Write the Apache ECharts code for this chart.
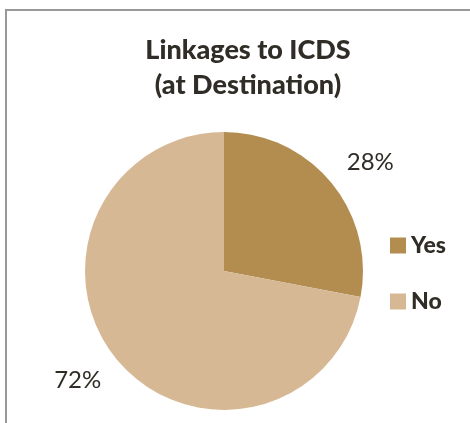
<!DOCTYPE html>
<html>
<head>
<meta charset="utf-8">
<script src="https://cdn.jsdelivr.net/npm/echarts@6/dist/echarts.min.js"></script>
<style>
html,body{margin:0;padding:0;background:#fff;}
#chart{width:470px;height:423px;}
</style>
</head>
<body>
<div id="chart"></div>
<script>
var categories = ['Yes', 'No'];
var values = [28, 72];
var colors = ['#B38C50', '#D6B994'];
var titleText = 'Linkages to ICDS\n(at Destination)';

var chart = echarts.init(document.getElementById('chart'), null, {renderer: 'canvas'});
var data = categories.map(function (c, i) {
  return {name: c, value: values[i], itemStyle: {color: colors[i]}};
});
chart.setOption({
  animation: false,
  backgroundColor: '#fff',
  graphic: [
    {type: 'line', shape: {x1: 6, y1: 10, x2: 470, y2: 10}, style: {stroke: '#999', lineWidth: 2}, silent: true},
    {type: 'line', shape: {x1: 6, y1: 9, x2: 6, y2: 423}, style: {stroke: '#999', lineWidth: 2}, silent: true}
  ],
  title: {
    text: titleText,
    left: 243,
    top: 28,
    textAlign: 'center',
    textStyle: {fontFamily: 'Lato', fontWeight: 900, fontSize: 27, color: '#302c26', lineHeight: 35}
  },
  legend: {
    orient: 'vertical',
    left: 385,
    top: 229,
    itemWidth: 16,
    itemHeight: 16,
    itemGap: 33,
    icon: 'rect',
    textStyle: {fontFamily: 'Lato', fontWeight: 900, fontSize: 23, color: '#302c26'},
    data: categories
  },
  series: [{
    type: 'pie',
    center: [224, 271],
    radius: [0, 139],
    startAngle: 90,
    clockwise: true,
    data: data,
    label: {
      show: true,
      position: 'outside',
      formatter: '{d}%',
      fontFamily: 'Lato',
      fontSize: 24,
      color: '#302c26',
      distanceToLabelLine: -9
    },
    labelLine: {show: false, length: 32, length2: 0},
    emphasis: {disabled: true}
  }]
});
</script>
</body>
</html>
